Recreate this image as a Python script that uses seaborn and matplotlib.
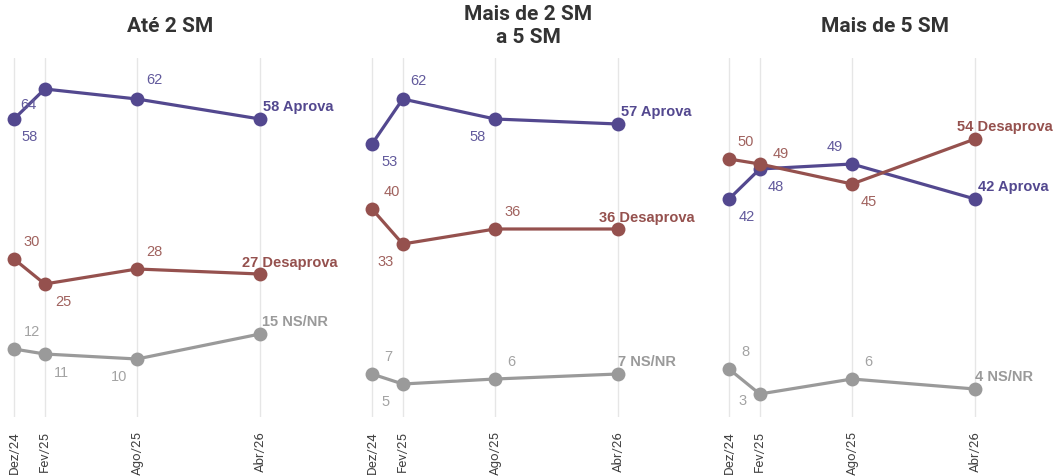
import matplotlib
matplotlib.use("Agg")
import matplotlib.pyplot as plt
import seaborn as sns
import pandas as pd

# ---------------- data ----------------
periods = ["Dez/24", "Fev/25", "Ago/25", "Abr/26"]
month_index = [0, 2, 8, 16]          # months since Dez/24
groups = ["Até 2 SM", "Mais de 2 SM\na 5 SM", "Mais de 5 SM"]
series = ["Aprova", "Desaprova", "NS/NR"]

aprova_ate2 = [58, 64, 62, 58]
desaprova_ate2 = [30, 25, 28, 27]
nsnr_ate2 = [12, 11, 10, 15]

aprova_2a5 = [53, 62, 58, 57]
desaprova_2a5 = [40, 33, 36, 36]
nsnr_2a5 = [7, 5, 6, 7]

aprova_mais5 = [42, 48, 49, 42]
desaprova_mais5 = [50, 49, 45, 54]
nsnr_mais5 = [8, 3, 6, 4]

values = {
    groups[0]: {"Aprova": aprova_ate2, "Desaprova": desaprova_ate2, "NS/NR": nsnr_ate2},
    groups[1]: {"Aprova": aprova_2a5, "Desaprova": desaprova_2a5, "NS/NR": nsnr_2a5},
    groups[2]: {"Aprova": aprova_mais5, "Desaprova": desaprova_mais5, "NS/NR": nsnr_mais5},
}

rows = []
for g in groups:
    for s in series:
        for p, m, v in zip(periods, month_index, values[g][s]):
            rows.append({"grupo": g, "serie": s, "periodo": p, "mes": m, "valor": v})
df = pd.DataFrame(rows)

# ---------------- style ----------------
colors = {"Aprova": "#53488f", "Desaprova": "#95514e", "NS/NR": "#9a9a9a"}
label_colors = {"Aprova": "#625a9c", "Desaprova": "#a0625e", "NS/NR": "#a3a3a3"}

# label offsets in pixels (dx right, dy down) for points 0..2
offsets = {
    groups[0]: {"Aprova": [(16, 18), (-16, 16), (17, -19)],
                "Desaprova": [(18, -17), (19, 18), (17, -17)],
                "NS/NR": [(18, -17), (17, 19), (-18, 18)]},
    groups[1]: {"Aprova": [(18, 18), (16, -18), (-17, 18)],
                "Desaprova": [(20, -17), (-17, 18), (18, -17)],
                "NS/NR": [(16, -17), (-17, 18), (16, -17)]},
    groups[2]: {"Aprova": [(18, 18), (16, 18), (-17, -17)],
                "Desaprova": [(17, -17), (21, -10), (17, 18)],
                "NS/NR": [(16, -17), (-17, 7), (16, -17)]},
}
# end label offsets (dx, dy) in pixels for left edge of text
end_offsets = {
    groups[0]: {"Aprova": (3, -12), "Desaprova": (-18, -11), "NS/NR": (2, -12)},
    groups[1]: {"Aprova": (3, -12), "Desaprova": (-19, -11), "NS/NR": (0, -12)},
    groups[2]: {"Aprova": (3, -12), "Desaprova": (-18, -12), "NS/NR": (0, -12)},
}

sns.set_theme(style="white")
plt.rcParams["font.family"] = ["Roboto", "DejaVu Sans"]
label_font = ["Liberation Sans", "DejaVu Sans"]

W, H = 1057, 476
fig = plt.figure(figsize=(W / 100, H / 100), dpi=100)

x0_px = [14, 372, 729]
scale = 15.375
xlim = (-0.5, 20.8)
top_px, bot_px = 58, 417
ylim = (-1.6, 70.2)

for k, g in enumerate(groups):
    left = x0_px[k] + xlim[0] * scale
    width = (xlim[1] - xlim[0]) * scale
    ax = fig.add_axes([left / W, 1 - bot_px / H, width / W, (bot_px - top_px) / H])
    sub = df[df["grupo"] == g]
    for m in month_index:
        ax.axvline(m, color="#e6e6e6", lw=1.0, zorder=0)
    sns.lineplot(data=sub, x="mes", y="valor", hue="serie", palette=colors,
                 hue_order=series, marker="o", markersize=10, markeredgewidth=0,
                 linewidth=2.3, legend=False, ax=ax, zorder=3)
    for s in series:
        vals = values[g][s]
        for i in range(3):
            dx, dy = offsets[g][s][i]
            ax.annotate(str(vals[i]), (month_index[i], vals[i]), xytext=(dx, -dy),
                        textcoords="offset pixels", ha="center", va="center",
                        fontsize=10.5, color=label_colors[s], family=label_font)
        dx, dy = end_offsets[g][s]
        ax.annotate(f"{vals[3]} {s}", (month_index[3], vals[3]), xytext=(dx, -dy),
                    textcoords="offset pixels", ha="left", va="center",
                    fontsize=10.5, fontweight="bold", color=colors[s],
                    family=label_font)
    ax.set_xlim(*xlim)
    ax.set_ylim(*ylim)
    ax.set_xticks(month_index)
    ax.set_xticklabels(periods, rotation=90, fontsize=9.5, color="#444444",
                       fontweight="normal")
    ax.tick_params(axis="x", length=0, pad=10)
    ax.set_yticks([])
    ax.set_xlabel("")
    ax.set_ylabel("")
    for sp in ax.spines.values():
        sp.set_visible(False)
    ax.patch.set_alpha(0)
    ax.text(10.15, 1 + (top_px - 26) / (bot_px - top_px), g,
            transform=ax.get_xaxis_transform(), ha="center", va="center",
            fontsize=15, fontweight="bold", color="#333333", linespacing=1.25)

fig.savefig("out.png", dpi=100)
